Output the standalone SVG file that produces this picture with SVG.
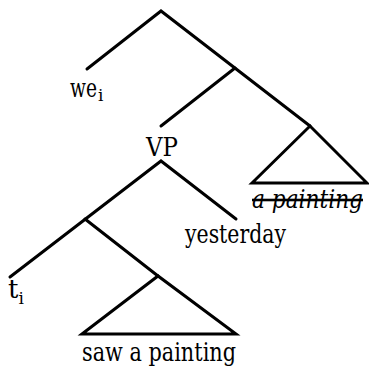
<svg xmlns="http://www.w3.org/2000/svg" width="369" height="366" viewBox="0 0 369 366">
<style>
.e{stroke:#000;stroke-width:3;fill:none;stroke-linecap:round;stroke-linejoin:miter}
.t{font-family:"DejaVu Serif","Liberation Serif",serif;font-size:26px;fill:#000}
.s{font-size:17px}
</style>
<rect width="369" height="366" fill="#fff"/>
<g id="connectors">
<path class="e" d="M87 69 L161 11 L310 126"/>
<path class="e" d="M161 126 L235 68"/>
<path class="e" d="M10 277 L161 161 L236 219"/>
<path class="e" d="M85 219 L158 276"/>
</g>
<g id="tri-object"><path class="e" d="M252 183 L310 126 L367 183 Z"/></g>
<g id="tri-vp"><path class="e" d="M82 334 L158 276 L236 334 Z"/></g>
<g id="we"><text class="t" x="70" y="97"><tspan textLength="27" lengthAdjust="spacingAndGlyphs">we</tspan><tspan class="s" dx="1" dy="4">i</tspan></text></g>
<g id="VP"><text class="t" x="146" y="156" textLength="32" lengthAdjust="spacingAndGlyphs">VP</text></g>
<g id="a-painting"><text class="t" x="252" y="208" font-style="italic" text-decoration="line-through" textLength="111" lengthAdjust="spacingAndGlyphs">a painting</text></g>
<g id="yesterday"><text class="t" x="185" y="243" textLength="101" lengthAdjust="spacingAndGlyphs">yesterday</text></g>
<g id="t"><text class="t" x="8" y="298">t<tspan class="s" dy="6">i</tspan></text></g>
<g id="saw"><text class="t" x="82" y="361" textLength="154" lengthAdjust="spacingAndGlyphs">saw a painting</text></g>
</svg>
